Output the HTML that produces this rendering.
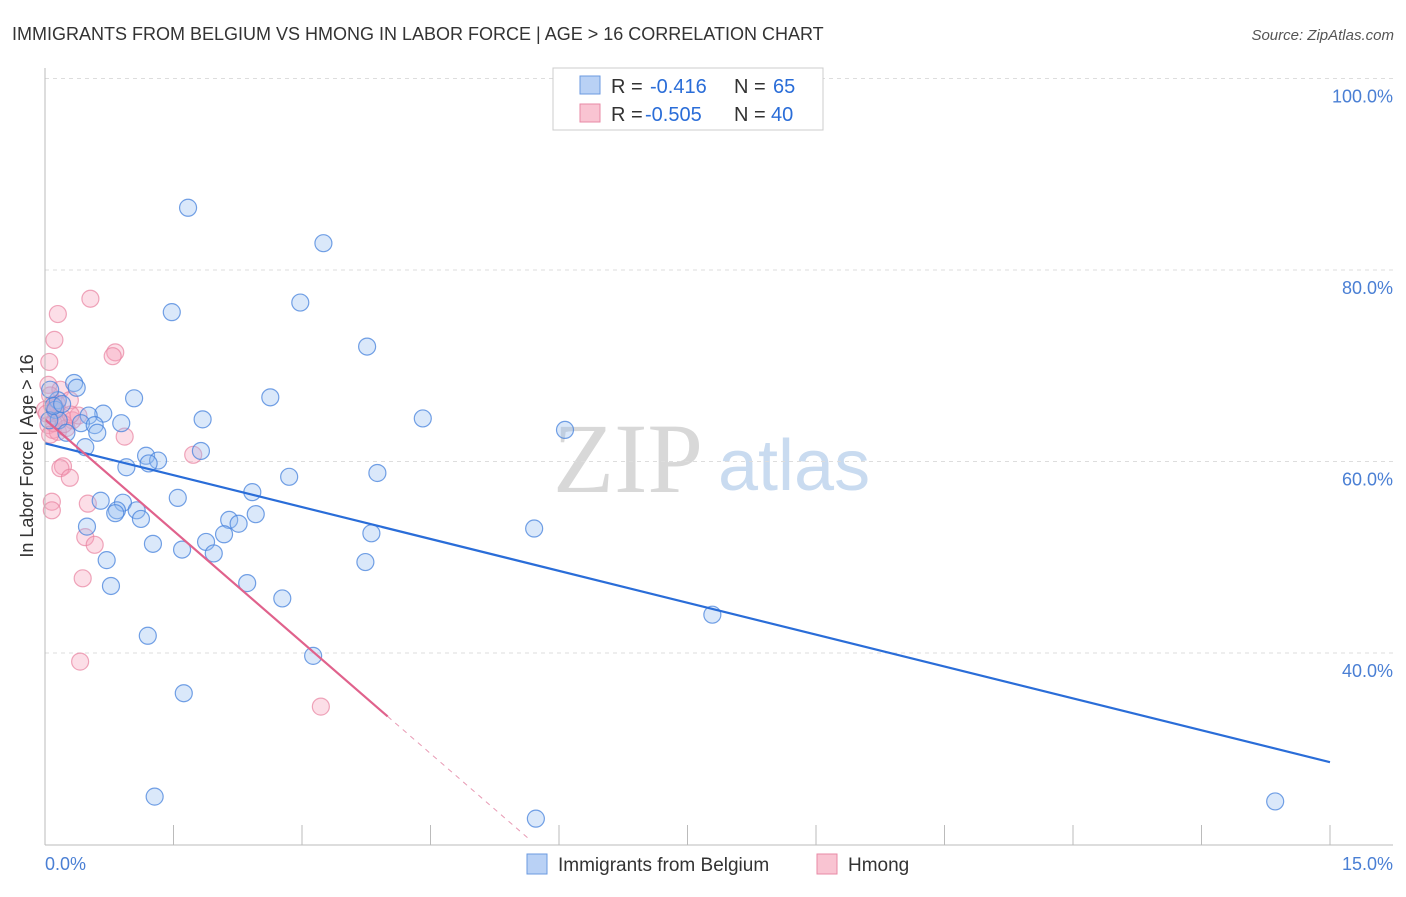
<!DOCTYPE html>
<html><head><meta charset="utf-8"><style>
body{margin:0;background:#fff;font-family:"Liberation Sans",sans-serif}
</style></head><body>
<svg id="chart" width="1406" height="892" xmlns="http://www.w3.org/2000/svg" font-family="Liberation Sans, sans-serif">
<text x="12" y="40" font-size="18" fill="#333">IMMIGRANTS FROM BELGIUM VS HMONG IN LABOR FORCE | AGE &gt; 16 CORRELATION CHART</text>
<text x="1394" y="40" font-size="15" fill="#555" text-anchor="end" font-style="italic">Source: ZipAtlas.com</text>
<text x="553" y="492" font-size="100" fill="#d8d8d8" font-family="Liberation Serif, serif">ZIP</text>
<text x="718" y="490" font-size="72" fill="#c9dbf0">atlas</text>
<text transform="translate(33,456) rotate(-90)" font-size="18" fill="#333" text-anchor="middle">In Labor Force | Age &gt; 16</text>
<g id="grid"></g><g id="marks"></g>
<line x1="45" y1="845" x2="1393" y2="845" stroke="#bbb"/>
<line x1="45" y1="68" x2="45" y2="845" stroke="#bbb"/>
<text x="45" y="870" font-size="18" fill="#4a7fd4">0.0%</text>
<text x="1393" y="870" font-size="18" fill="#4a7fd4" text-anchor="end">15.0%</text>
<g>
<rect x="553" y="68" width="270" height="62" fill="#fff" stroke="#ccc"/>
<rect x="580" y="76" width="20" height="18" fill="#b9d1f5" stroke="#6b9ae0"/>
<rect x="580" y="104" width="20" height="18" fill="#f9c4d2" stroke="#e88aa6"/>
<text x="611" y="93" font-size="20" fill="#333">R =</text>
<text x="650" y="93" font-size="20" fill="#2a6dd8">-0.416</text>
<text x="734" y="93" font-size="20" fill="#333">N =</text>
<text x="773" y="93" font-size="20" fill="#2a6dd8">65</text>
<text x="611" y="121" font-size="20" fill="#333">R =</text>
<text x="645" y="121" font-size="20" fill="#2a6dd8">-0.505</text>
<text x="734" y="121" font-size="20" fill="#333">N =</text>
<text x="771" y="121" font-size="20" fill="#2a6dd8">40</text>
</g>
<g>
<rect x="527" y="854" width="20" height="20" fill="#b9d1f5" stroke="#6b9ae0"/>
<text x="558" y="871" font-size="19" fill="#333">Immigrants from Belgium</text>
<rect x="817" y="854" width="20" height="20" fill="#f9c4d2" stroke="#e88aa6"/>
<text x="848" y="871" font-size="19" fill="#333">Hmong</text>
</g>
</svg>
<script>
const yTicks=[40,60,80,100];
const yTickLabels=["40.0%","60.0%","80.0%","100.0%"];
const xTicks=[1.5,3,4.5,6,7.5,9,10.5,12,13.5,15];
const blueX=[1.67,3.25,1.48,2.98,3.76,0.34,0.37,1.04,2.63,0.68,0.51,0.15,0.12,0.16,0.42,0.58,0.89,1.84,4.41,6.07,0.25,0.61,0.47,1.82,1.18,1.32,1.21,0.95,3.88,2.85,2.42,1.55,0.65,0.91,0.84,1.07,0.82,2.46,1.12,2.15,2.26,0.49,2.09,3.81,5.71,1.26,1.88,1.60,1.97,0.72,3.74,0.77,2.36,2.77,7.79,1.20,3.13,1.62,1.28,5.73,14.36,0.06,0.05,0.10,0.20];
const blueY=[86.5,82.8,75.6,76.6,72.0,68.2,67.7,66.6,66.7,65.0,64.8,66.4,65.4,64.3,64.0,63.8,64.0,64.4,64.5,63.3,63.0,63.0,61.5,61.1,60.6,60.1,59.8,59.4,58.8,58.4,56.8,56.2,55.9,55.7,54.9,54.9,54.6,54.5,54.0,53.9,53.5,53.2,52.4,52.5,53.0,51.4,51.6,50.8,50.4,49.7,49.5,47.0,47.3,45.7,44.0,41.8,39.7,35.8,25.0,22.7,24.5,67.5,64.3,65.8,66.0];
const pinkX=[0.53,0.15,0.11,0.82,0.79,0.05,0.04,0.18,0.29,0.06,0.08,0.12,0.20,0.04,0.09,0.15,0.32,0.93,1.73,0.21,0.18,0.29,0.08,0.08,0.50,0.47,0.58,0.44,0.41,3.22,0.00,0.25,0.39,0.10,0.14,0.02,0.22,0.30,0.06,0.12];
const pinkY=[77.0,75.4,72.7,71.4,71.0,70.4,68.0,67.5,66.4,66.9,65.9,65.2,64.6,63.8,63.3,63.1,64.3,62.6,60.7,59.5,59.3,58.3,55.8,54.9,55.6,52.1,51.3,47.8,39.1,34.4,65.4,63.5,64.8,64.0,66.0,65.0,63.9,64.9,62.8,65.6];
const blueTrend=[61.9,28.6];
const pinkTrend=[64.4,20.5];
const pinkTrendX=[0,5.66,4.0];
const sx=v=>45+v/15*1285;
const sy=v=>1036-v*9.575;
const NS="http://www.w3.org/2000/svg";
function mk(t,a,p){const e=document.createElementNS(NS,t);for(const k in a)e.setAttribute(k,a[k]);p.appendChild(e);return e;}
const gridG=document.getElementById('grid'),marksG=document.getElementById('marks');
yTicks.forEach((t,i)=>{
 const g=mk('line',{x1:45,x2:1393,y1:sy(t),y2:sy(t),stroke:'#ddd','stroke-dasharray':'4,4'},gridG);
 
 
 const l=mk('text',{x:1393,y:sy(t)+24,'font-size':18,fill:'#4a7fd4','text-anchor':'end'},gridG);
 l.textContent=yTickLabels[i];
 
 
});
xTicks.forEach(t=>{
 const k=mk('line',{x1:sx(t),x2:sx(t),y1:825,y2:845,stroke:'#bbb'},gridG);
 
 
});
pinkX.forEach((x,i)=>{
 const c=mk('circle',{cx:sx(x),cy:sy(pinkY[i]),r:8.5,fill:'rgba(245,160,185,0.35)',stroke:'rgba(232,130,160,0.7)','stroke-width':1.2},marksG);
 
 
});
blueX.forEach((x,i)=>{
 const c=mk('circle',{cx:sx(x),cy:sy(blueY[i]),r:8.5,fill:'rgba(150,190,240,0.35)',stroke:'rgba(70,130,220,0.75)','stroke-width':1.2},marksG);
 
 
});
const bl=mk('line',{x1:sx(0),y1:sy(blueTrend[0]),x2:sx(15),y2:sy(blueTrend[1]),stroke:'#2a6dd8','stroke-width':2.2},marksG);


const pf=x=>pinkTrend[0]+(pinkTrend[1]-pinkTrend[0])*(x-pinkTrendX[0])/(pinkTrendX[1]-pinkTrendX[0]);
const pl=mk('line',{x1:sx(pinkTrendX[0]),y1:sy(pf(pinkTrendX[0])),x2:sx(pinkTrendX[2]),y2:sy(pf(pinkTrendX[2])),stroke:'#e0628c','stroke-width':2.2},marksG);


const pd=mk('line',{x1:sx(pinkTrendX[2]),y1:sy(pf(pinkTrendX[2])),x2:sx(pinkTrendX[1]),y2:sy(pf(pinkTrendX[1])),stroke:'#e89ab4','stroke-width':1,'stroke-dasharray':'5,5'},marksG);


</script>
</body></html>
